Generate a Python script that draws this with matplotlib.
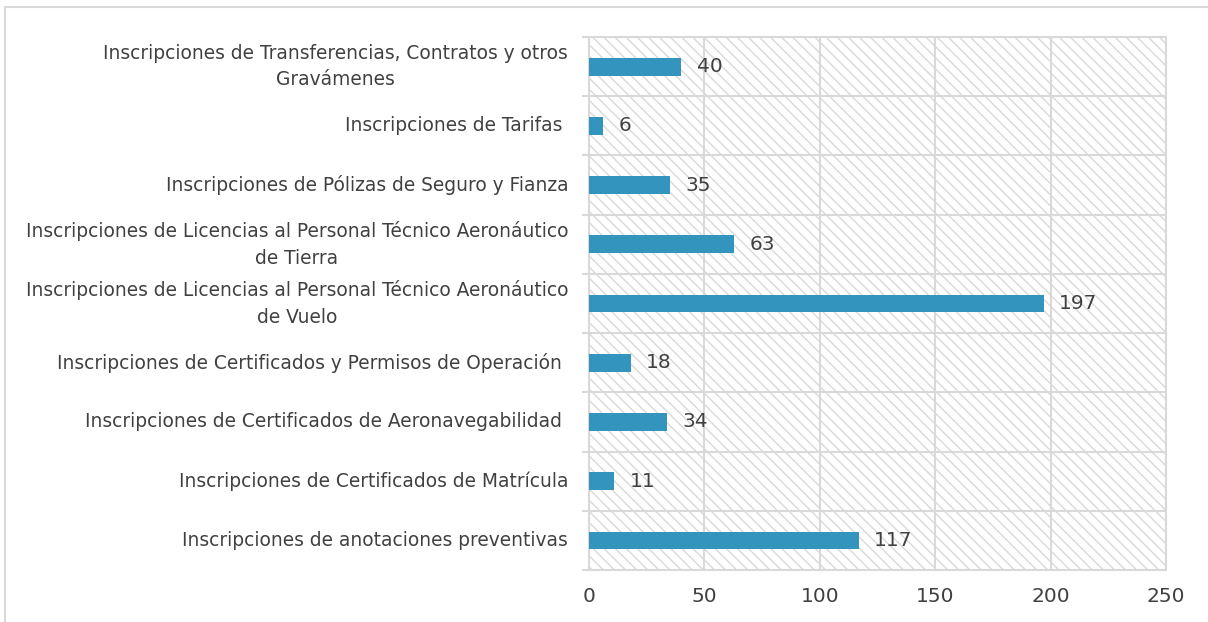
import matplotlib.pyplot as plt
from matplotlib.patches import Rectangle
from matplotlib.lines import Line2D
import numpy as np

plt.rcParams['font.family'] = ['DejaVu Sans']
plt.rcParams['hatch.color'] = '#cccccc'
plt.rcParams['hatch.linewidth'] = 1.0

categories = [
    "Inscripciones de anotaciones preventivas",
    "Inscripciones de Certificados de Matrícula",
    "Inscripciones de Certificados de Aeronavegabilidad ",
    "Inscripciones de Certificados y Permisos de Operación ",
    "Inscripciones de Licencias al Personal Técnico Aeronáutico\nde Vuelo",
    "Inscripciones de Licencias al Personal Técnico Aeronáutico\nde Tierra",
    "Inscripciones de Pólizas de Seguro y Fianza",
    "Inscripciones de Tarifas ",
    "Inscripciones de Transferencias, Contratos y otros\nGravámenes",
]
values = [117, 11, 34, 18, 197, 63, 35, 6, 40]
xticks = [0, 50, 100, 150, 200, 250]

text_color = '#404040'
grid_color = '#d9d9d9'
bar_color = '#3395bd'

fig = plt.figure(figsize=(12.08, 6.22), dpi=100)
ax = fig.add_axes([0.4876, 0.0836, 0.4776, 0.8569])

y = np.arange(len(categories))
ax.set_xlim(0, 250)
ax.set_ylim(-0.5, len(categories) - 0.5)

# hatched plot area
ax.add_patch(Rectangle((0, -0.5), 250, len(categories), facecolor='white',
                       hatch='\\\\\\', edgecolor=grid_color, linewidth=0, zorder=0))

ax.barh(y, values, height=0.3, color=bar_color, zorder=3)
for yi, v in zip(y, values):
    ax.annotate(str(v), (v, yi), xytext=(11, 0), textcoords='offset points',
                va='center', ha='left', fontsize=14.5, color=text_color, zorder=4)

ax.set_xticks(xticks)
ax.set_xticklabels([str(t) for t in xticks])
ax.set_yticks(y)
ax.set_yticklabels(categories, multialignment='center', linespacing=1.5)
for lbl in ax.get_yticklabels():
    lbl.set_va('center')
ax.set_yticks(np.arange(-0.5, len(categories), 1), minor=True)

ax.tick_params(axis='x', length=0, pad=12, labelsize=14.5, labelcolor=text_color)
ax.tick_params(axis='y', which='major', length=0, pad=15, labelsize=13.4, labelcolor=text_color)
ax.tick_params(axis='y', which='minor', length=5, width=1.5, color=grid_color, direction='out')

ax.grid(axis='x', color=grid_color, linewidth=1.5, zorder=1)
ax.grid(axis='y', which='minor', color=grid_color, linewidth=1.5, zorder=1)
ax.set_axisbelow(True)
for s in ax.spines.values():
    s.set_color(grid_color)
    s.set_linewidth(1.5)

# outer chart border
fig.add_artist(Line2D([5 / 1208, 1], [1 - 7 / 622, 1 - 7 / 622], color='#d9d9d9', linewidth=1.5))
fig.add_artist(Line2D([5 / 1208, 5 / 1208], [0, 1 - 7 / 622], color='#d9d9d9', linewidth=1.5))

fig.savefig('out.png', dpi=100)
